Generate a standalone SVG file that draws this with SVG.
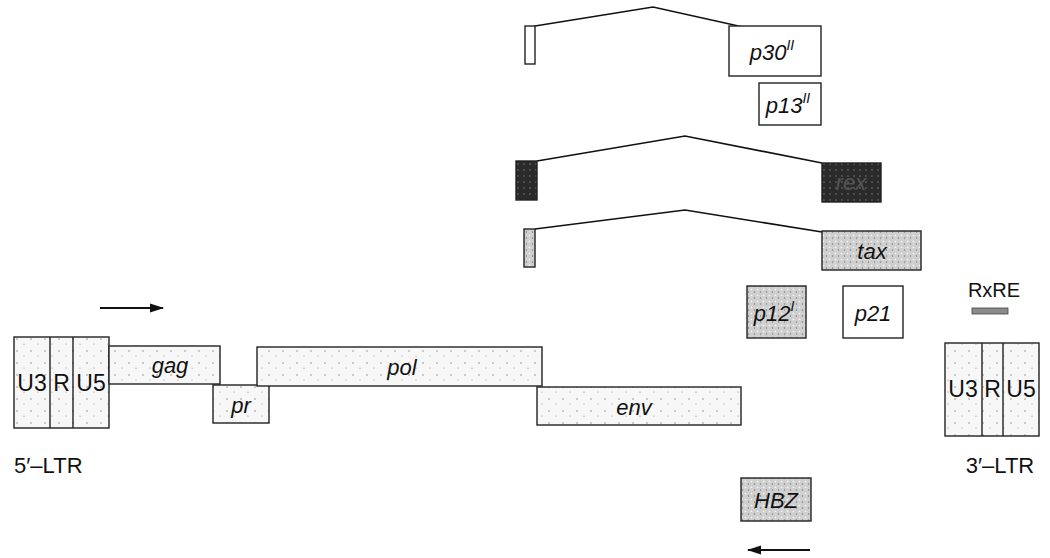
<svg xmlns="http://www.w3.org/2000/svg" width="1050" height="558" viewBox="0 0 1050 558">
<style>
.box{stroke:#222;stroke-width:1.4}
.lbl{font-family:"Liberation Sans",Arial,sans-serif;font-size:22px;fill:#111;text-anchor:middle}
.ltr{font-size:23px}
.it{font-style:italic}
.conn{fill:none;stroke:#111;stroke-width:1.6}
.arr{fill:none;stroke:#111;stroke-width:2}
</style>
<defs>
<pattern id="light" width="14" height="12" patternUnits="userSpaceOnUse">
<rect width="14" height="12" fill="#f7f7f7"/>
<circle cx="3" cy="3" r="0.7" fill="#777"/><circle cx="10" cy="8" r="0.6" fill="#888"/>
</pattern>
<pattern id="med" width="6" height="6" patternUnits="userSpaceOnUse">
<rect width="6" height="6" fill="#cfcfcf"/>
<circle cx="1.5" cy="1.5" r="0.8" fill="#fff"/><circle cx="4.5" cy="4" r="0.7" fill="#777"/>
</pattern>
<pattern id="dark" width="6" height="6" patternUnits="userSpaceOnUse">
<rect width="6" height="6" fill="#2a2a2a"/>
<circle cx="2" cy="2" r="0.7" fill="#888"/>
</pattern>
<marker id="ah" viewBox="0 0 14 10" refX="13" refY="5" markerWidth="14" markerHeight="10" markerUnits="userSpaceOnUse" orient="auto">
<path d="M0,0.5 L14,5 L0,9.5 Z" fill="#111"/>
</marker>
</defs>

<g id="connectors">
<polyline class="conn" points="535,26 653,7 743,27"/>
<polyline class="conn" points="537,161 685,136 822,163"/>
<polyline class="conn" points="535,229 685,210 822,232"/>
<line class="arr" x1="100" y1="308" x2="163" y2="308" marker-end="url(#ah)"/>
<line class="arr" x1="810" y1="550" x2="748" y2="550" marker-end="url(#ah)"/>
</g>

<g id="p30II">
<rect class="box" x="525" y="26" width="10" height="38" fill="#fff"/>
<rect class="box" x="729" y="26" width="92" height="50" fill="#fff"/>
<text class="lbl it" x="772" y="60">p30<tspan font-size="14" dy="-10">II</tspan></text>
</g>
<g id="p13II">
<rect class="box" x="759" y="83" width="62" height="42" fill="#fff"/>
<text class="lbl it" x="788" y="113">p13<tspan font-size="14" dy="-10">II</tspan></text>
</g>
<g id="rex">
<rect class="box" x="516" y="161" width="21" height="39" fill="url(#dark)"/>
<rect class="box" x="822" y="163" width="59" height="39" fill="url(#dark)"/>
<text class="lbl it" x="851" y="190" style="fill:#555">rex</text>
</g>
<g id="tax">
<rect class="box" x="524" y="229" width="11" height="38" fill="url(#med)"/>
<rect class="box" x="822" y="231" width="99" height="39" fill="url(#med)"/>
<text class="lbl it" x="872" y="259">tax</text>
</g>
<g id="p12I">
<rect class="box" x="747" y="286" width="59" height="52" fill="url(#med)"/>
<text class="lbl it" x="774" y="321">p12<tspan font-size="14" dy="-10">I</tspan></text>
</g>
<g id="p21">
<rect class="box" x="843" y="286" width="60" height="52" fill="#fff"/>
<text class="lbl it" x="873" y="321">p21</text>
</g>
<g id="RxRE">
<text class="lbl" x="994" y="297" style="font-size:20px">RxRE</text>
<rect x="972" y="308" width="36" height="6" fill="#8a8a8a" stroke="#444" stroke-width="0.8"/>
</g>
<g id="LTR5">
<rect class="box" x="14" y="337" width="95" height="91" fill="url(#light)"/>
<line class="box" x1="50" y1="337" x2="50" y2="428"/>
<line class="box" x1="73" y1="337" x2="73" y2="428"/>
<text class="lbl ltr" x="32" y="391">U3</text>
<text class="lbl ltr" x="61.5" y="391">R</text>
<text class="lbl ltr" x="91" y="391">U5</text>
<text class="lbl" x="14" y="473" style="text-anchor:start">5′–LTR</text>
</g>
<g id="gag">
<rect class="box" x="109" y="346" width="111" height="38" fill="url(#light)"/>
<text class="lbl it" x="170" y="373">gag</text>
</g>
<g id="pr">
<rect class="box" x="213" y="385" width="56" height="38" fill="url(#light)"/>
<text class="lbl it" x="241" y="413">pr</text>
</g>
<g id="pol">
<rect class="box" x="257" y="347" width="285" height="39" fill="url(#light)"/>
<text class="lbl it" x="402" y="375">pol</text>
</g>
<g id="env">
<rect class="box" x="537" y="387" width="204" height="38" fill="url(#light)"/>
<text class="lbl it" x="634" y="415">env</text>
</g>
<g id="LTR3">
<rect class="box" x="945" y="343" width="94" height="93" fill="url(#light)"/>
<line class="box" x1="982" y1="343" x2="982" y2="436"/>
<line class="box" x1="1003" y1="343" x2="1003" y2="436"/>
<text class="lbl ltr" x="963" y="397">U3</text>
<text class="lbl ltr" x="992.5" y="397">R</text>
<text class="lbl ltr" x="1021" y="397">U5</text>
<text class="lbl" x="1000" y="473">3′–LTR</text>
</g>
<g id="HBZ">
<rect class="box" x="741" y="478" width="70" height="43" fill="url(#med)"/>
<text class="lbl it" x="776" y="508">HBZ</text>
</g>
</svg>
